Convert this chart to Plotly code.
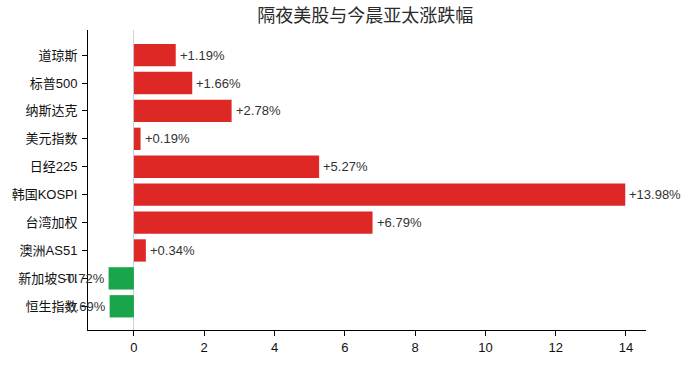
import plotly.graph_objects as go

categories = ["道琼斯", "标普500", "纳斯达克", "美元指数", "日经225", "韩国KOSPI", "台湾加权", "澳洲AS51", "新加坡STI", "恒生指数"]
values = [1.19, 1.66, 2.78, 0.19, 5.27, 13.98, 6.79, 0.34, -0.72, -0.69]
tick_vals = [0, 2, 4, 6, 8, 10, 12, 14]

RED = "#DD2826"
GREEN = "#18A54B"
FONT = "Liberation Sans, Arial, Noto Sans CJK SC, sans-serif"

colors = [RED if v >= 0 else GREEN for v in values]

fig = go.Figure()
fig.add_trace(go.Bar(
    x=values, y=categories, orientation="h",
    marker=dict(color=colors, line=dict(width=0)),
    width=0.8, hoverinfo="skip",
))

annotations = []
for c, v in zip(categories, values):
    lab = f"{v:+.2f}%"
    annotations.append(dict(
        x=v, y=c, xref="x", yref="y", text=lab, showarrow=False,
        xanchor="left" if v >= 0 else "right",
        xshift=2 if v >= 0 else -2,
        font=dict(family=FONT, size=13, color="#333333"),
    ))

fig.update_layout(
    width=690, height=367,
    margin=dict(l=87, r=44, t=30, b=33),
    paper_bgcolor="white", plot_bgcolor="white",
    showlegend=False,
    title=dict(text="隔夜美股与今晨亚太涨跌幅", x=0.5295, xanchor="center", y=0.957, yanchor="middle",
               font=dict(family="Noto Sans CJK SC, sans-serif", size=18, color="#2a2a2a")),
    annotations=annotations,
    xaxis=dict(
        range=[-1.306, 14.57], tickvals=tick_vals, ticktext=[str(t) for t in tick_vals],
        showline=True, linecolor="black", linewidth=1, mirror=False,
        ticks="outside", ticklen=5, tickcolor="black",
        showgrid=False, zeroline=True, zerolinecolor="#c9d3df", zerolinewidth=1,
        tickfont=dict(family=FONT, size=13, color="#111111"),
    ),
    yaxis=dict(
        categoryorder="array", categoryarray=categories,
        range=[9.85, -0.90],
        showline=True, linecolor="black", linewidth=1,
        ticks="outside", ticklen=5, tickcolor="black", ticklabelstandoff=2,
        showgrid=False, zeroline=False,
        tickfont=dict(family="Liberation Sans, Noto Sans CJK SC, sans-serif", size=13, color="#111111"),
    ),
)

fig.write_html("out.html")
